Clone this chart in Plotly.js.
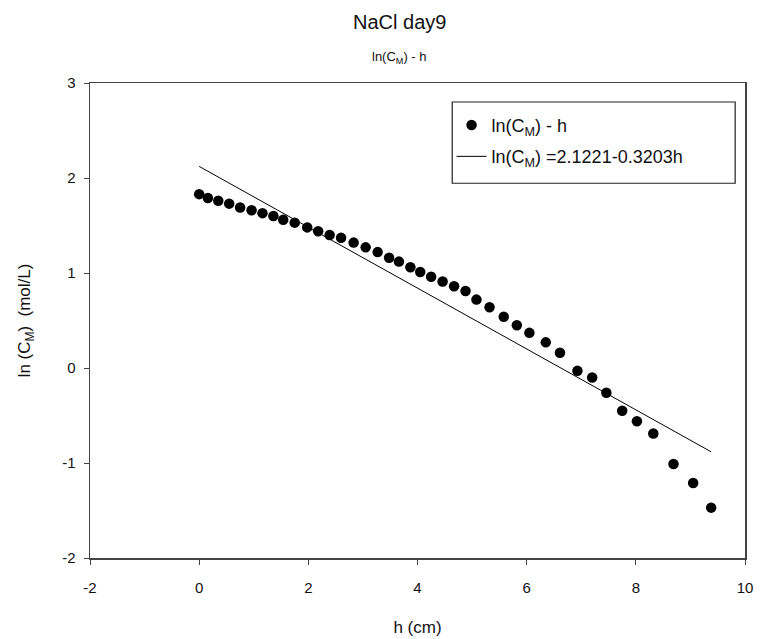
<!DOCTYPE html>
<html>
<head>
<meta charset="utf-8">
<script src="https://cdn.plot.ly/plotly-3.0.1.min.js"></script>
<style>html,body{margin:0;padding:0;background:#fff;}#chart{width:760px;height:639px;}</style>
</head>
<body>
<div id="chart"></div>
<script>
// Measured points: height h (cm) and ln(C_M)
var hValues = [0.00, 0.16, 0.35, 0.55, 0.75, 0.96, 1.16, 1.36, 1.54, 1.75,
               1.98, 2.18, 2.39, 2.60, 2.83, 3.05, 3.27, 3.48, 3.66, 3.87,
               4.05, 4.25, 4.46, 4.67, 4.88, 5.08, 5.32, 5.58, 5.82, 6.05,
               6.35, 6.61, 6.93, 7.20, 7.46, 7.75, 8.02, 8.32, 8.69, 9.05, 9.38];
var lnCValues = [1.83, 1.79, 1.76, 1.73, 1.69, 1.66, 1.63, 1.60, 1.56, 1.53,
                 1.48, 1.44, 1.40, 1.37, 1.32, 1.27, 1.22, 1.16, 1.12, 1.06,
                 1.01, 0.96, 0.91, 0.86, 0.81, 0.72, 0.64, 0.54, 0.45, 0.37,
                 0.27, 0.16, -0.03, -0.10, -0.26, -0.45, -0.56, -0.69, -1.01, -1.21, -1.47];
// Regression line endpoints
var fitH = [0.00, 9.38];
var fitLnC = [2.1221, -0.8823];

var xTicks = [-2, 0, 2, 4, 6, 8, 10];
var yTicks = [-2, -1, 0, 1, 2, 3];

var FONT = 'Liberation Sans, Arial, Helvetica, sans-serif';

var traces = [
  {
    x: hValues, y: lnCValues, type: 'scatter', mode: 'markers',
    name: 'ln(C<sub>M</sub>) - h', legendgroup: 'a',
    marker: {color: '#000', size: 10.5, line: {width: 0}}
  },
  {
    x: fitH, y: fitLnC, type: 'scatter', mode: 'lines',
    name: 'ln(C<sub>M</sub>) =2.1221-0.3203h', legendgroup: 'b',
    line: {color: '#000', width: 1}
  }
];

var axisCommon = {
  showgrid: false, zeroline: false, showline: true, mirror: true,
  linecolor: '#444', linewidth: 1.5,
  ticks: 'outside', ticklen: 5, tickcolor: '#444', tickwidth: 1,
  tickfont: {family: FONT, size: 15, color: '#111'}
};

var layout = {
  width: 760, height: 639,
  paper_bgcolor: '#fff', plot_bgcolor: '#fff',
  margin: {l: 90, r: 15, t: 83, b: 81},
  font: {family: FONT, color: '#111'},
  showlegend: true,
  legend: {
    x: 0.552, y: 0.95, xanchor: 'left', yanchor: 'top',
    borderwidth: 0, bgcolor: 'rgba(0,0,0,0)',
    font: {family: FONT, size: 18, color: '#111'},
    tracegroupgap: 5, itemwidth: 30
  },
  xaxis: Object.assign({}, axisCommon, {
    range: [-2, 10], tickvals: xTicks, ticktext: xTicks.map(String),
    ticklabelstandoff: 10,
    title: {text: 'h (cm)', font: {family: FONT, size: 17, color: '#111'}, standoff: 26}
  }),
  yaxis: Object.assign({}, axisCommon, {
    range: [-2, 3], tickvals: yTicks, ticktext: yTicks.map(String),
    ticklabelstandoff: 5,
    title: {text: 'ln (C<sub>M</sub>)  (mol/L)', font: {family: FONT, size: 17, color: '#111'}, standoff: 27}
  }),
  shapes: [
    {type: 'rect', xref: 'paper', yref: 'paper', x0: 0.553, x1: 0.985, y0: 0.789, y1: 0.96,
     line: {color: '#222', width: 1.2}, fillcolor: 'rgba(0,0,0,0)'}
  ],
  annotations: [
    {text: 'NaCl day9', xref: 'paper', yref: 'paper', x: 0.473, y: 1, yshift: 61,
     showarrow: false, xanchor: 'center', yanchor: 'middle',
     font: {family: FONT, size: 20, color: '#111'}},
    {text: 'ln(C<sub>M</sub>) - h', xref: 'paper', yref: 'paper', x: 0.473, y: 1, yshift: 26,
     showarrow: false, xanchor: 'center', yanchor: 'middle',
     font: {family: FONT, size: 13, color: '#111'}}
  ]
};

Plotly.newPlot('chart', traces, layout, {displayModeBar: false, staticPlot: true});
</script>
</body>
</html>
